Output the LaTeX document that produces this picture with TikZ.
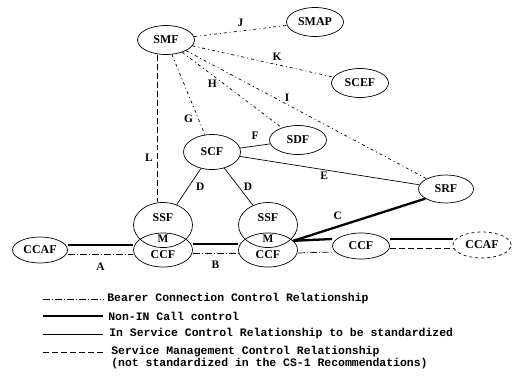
\documentclass[tikz,border=0pt]{standalone}
\usepackage{fontspec}
\setmainfont{Liberation Serif}
\newfontfamily\legendfont{Liberation Mono}
\usetikzlibrary{shapes.geometric,calc}
\tikzset{
  fe/.style={draw,ellipse,inner sep=0pt,minimum width=57bp,minimum height=29bp,
    font=\fontsize{12}{12}\selectfont\bfseries},
  rel/.style={font=\fontsize{11.5}{11.5}\selectfont\bfseries,inner sep=1pt},
  mgmt/.style={dash pattern=on 3pt off 3pt on 1pt off 3pt},
  smgmt/.style={dash pattern=on 6pt off 3pt},
  bearer/.style={dash pattern=on 7pt off 2pt on 1pt off 2pt},
  callctl/.style={line width=2.3pt},
  legtext/.style={anchor=west,inner sep=0pt,font=\legendfont\bfseries\fontsize{11.5}{11.5}\selectfont}
}
\begin{document}
\begin{tikzpicture}[x=1bp,y=-1bp,line width=0.7pt]
\useasboundingbox (0,0) rectangle (516,390);
% functional entities
\node[fe] (SMF) at (166,40) {SMF};
\node[fe] (SMAP) at (315,22) {SMAP};
\node[fe] (SCEF) at (360,83) {SCEF};
\node[fe] (SDF) at (298,140) {SDF};
\node[fe,minimum height=35bp] (SCF) at (212,152) {SCF};
\node[fe,minimum width=55bp,minimum height=28bp] (SRF) at (446,189) {SRF};
\node[fe,minimum width=55bp,minimum height=26bp] (CCAFa) at (40,250) {CCAF};
\node[fe,minimum width=59bp,minimum height=45bp,text height=4bp,text depth=12bp] (SSFa) at (163,225) {SSF};
\node[fe,minimum width=59bp,minimum height=34bp,text height=17bp,text depth=0bp] (CCFa) at (163,250) {CCF};
\node[fe,minimum width=59bp,minimum height=45bp,text height=4bp,text depth=12bp] (SSFb) at (268,225) {SSF};
\node[fe,minimum width=59bp,minimum height=34bp,text height=17bp,text depth=0bp] (CCFb) at (268,250) {CCF};
\node[fe,minimum width=57bp,minimum height=26bp] (CCFc) at (361,246) {CCF};
\node[fe,dashed,minimum width=58bp,minimum height=26bp] (CCAFb) at (482,245) {CCAF};
\node[rel] (Ma) at (163,239) {M};
\node[rel] (Mb) at (268,239) {M};
% management relationships
\draw[mgmt] (SMF) -- (SMAP) node[rel,midway,above=3pt] {J};
\draw[mgmt] (SMF) -- (SCEF) node[rel,pos=0.6,above=3pt] {K};
\draw[mgmt] (SMF) -- (SDF) node[rel,pos=0.42,left=6pt] {H};
\draw[mgmt] (SMF) -- (SRF) node[rel,pos=0.42,above=2pt] {I};
\draw[mgmt] (SMF) -- (SCF) node[rel,pos=0.8,left=4pt] {G};
\draw[smgmt] ($(SMF.south)+(-9,0)$) -- ($(SSFa.north)+(-6,0)$) node[rel,pos=0.7,left=3pt] {L};
% service control relationships
\draw (SCF) -- (SDF) node[rel,midway,above=5pt] {F};
\draw (SCF) -- (SRF) node[rel,pos=0.47,below=1pt] {E};
\draw (SCF) -- (SSFa) node[rel,midway,right=6pt] {D};
\draw (SCF) -- (SSFb) node[rel,midway,right=4pt] {D};
\draw[callctl] (SRF.205) -- (CCFb.20) node[rel,pos=0.6,above left=2pt] {C};
% call and bearer control
\draw[callctl] ($(CCAFa.east)+(0,-5)$) -- ($(CCFa.west)+(0,-5)$);
\draw[bearer] ($(CCAFa.east)+(0,4)$) -- ($(CCFa.west)+(0,4)$) node[rel,midway,below=8pt] {A};
\draw[callctl] ($(CCFa.east)+(0,-6)$) -- ($(CCFb.west)+(0,-6)$);
\draw[bearer] ($(CCFa.east)+(0,3)$) -- ($(CCFb.west)+(0,3)$) node[rel,midway,below=7pt] {B};
\draw[callctl] (CCFb.20) -- ($(CCFc.west)+(0,-7)$);
\draw[bearer] ($(CCFb.east)+(0,3)$) -- ($(CCFc.west)+(0,6)$);
\draw[callctl] ($(CCFc.east)+(0,-7)$) -- ($(CCAFb.west)+(0,-6)$);
\draw[smgmt] ($(CCFc.east)+(0,2)$) -- ($(CCAFb.west)+(0,3)$);
% legend
\node[legtext] (legBearer) at (107,299) {Bearer Connection Control Relationship};
\node[legtext] (legCall) at (108,316) {Non-IN Call control};
\node[legtext] (legSvc) at (109,334) {In Service Control Relationship to be standardized};
\node[legtext] (legMgmt) at (111,352) {Service Management Control Relationship};
\node[legtext] (legNote) at (111,364) {(not standardized in the CS-1 Recommendations)};
\draw[bearer] ($(legBearer.west)+(-64,0)$) -- ($(legBearer.west)+(-4,0)$);
\draw[callctl] ($(legCall.west)+(-65,0)$) -- ($(legCall.west)+(-5,0)$);
\draw ($(legSvc.west)+(-66,0)$) -- ($(legSvc.west)+(-6,0)$);
\draw[smgmt] ($(legMgmt.west)+(-68,0)$) -- ($(legMgmt.west)+(-8,0)$);
\end{tikzpicture}
\end{document}
